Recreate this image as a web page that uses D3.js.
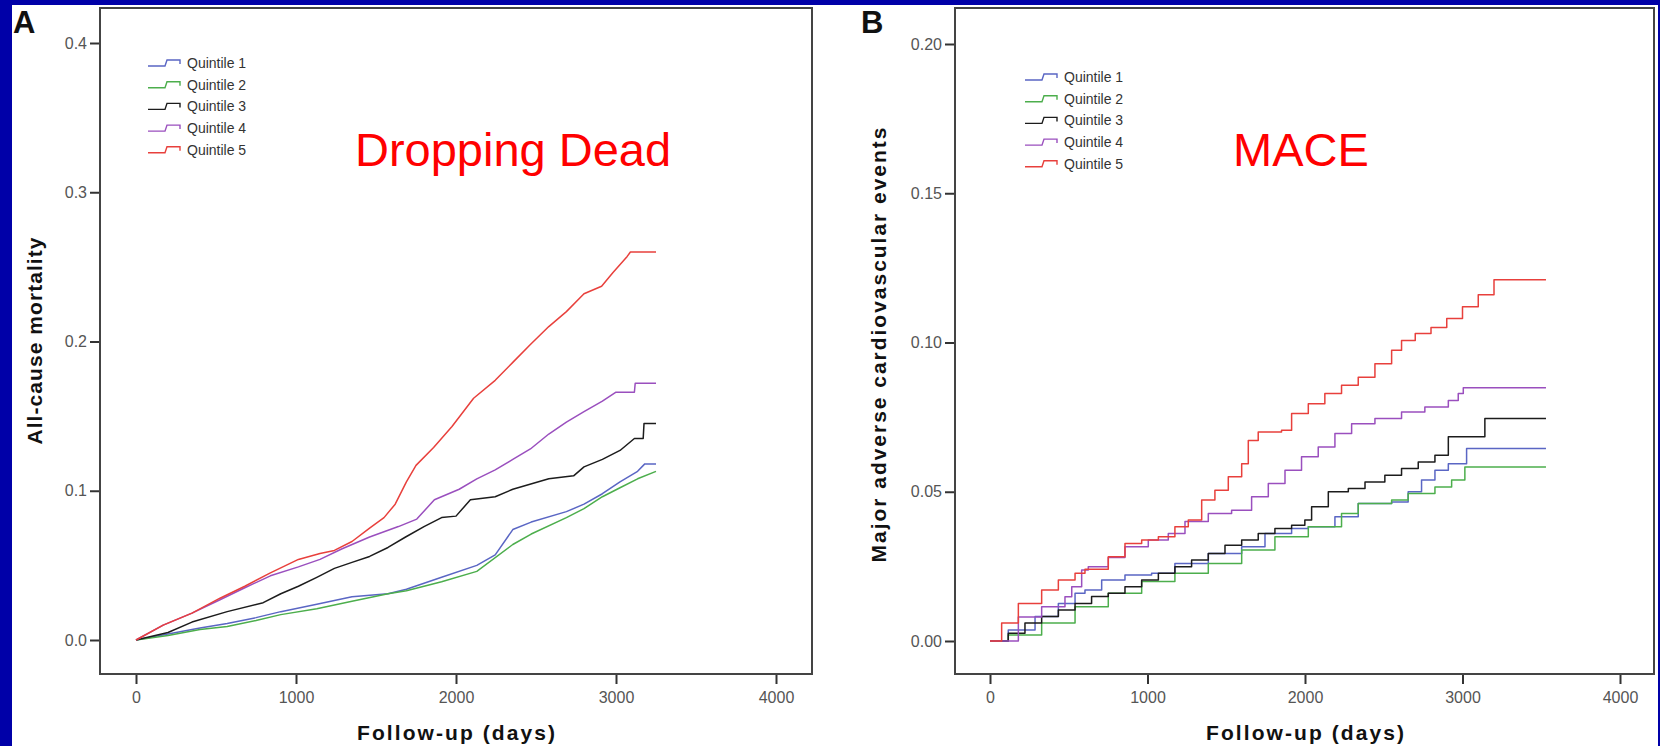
<!DOCTYPE html>
<html>
<head>
<meta charset="utf-8">
<script src="https://cdn.jsdelivr.net/npm/d3@7"></script>
<style>
html, body { margin: 0; padding: 0; background: #0000a8; overflow: hidden; }
svg { display: block; }
text { font-family: "Liberation Sans", Arial, sans-serif; }
</style>
</head>
<body>
<div id="chart"></div>
<script>

/*********************/
/******** data *******/

const quintiles = ["Quintile 1", "Quintile 2", "Quintile 3", "Quintile 4", "Quintile 5"];
const quintileColors = ["#5a66c4", "#4cae4c", "#1c1c1c", "#9a4fbe", "#e8403c"];
const xTicks = [0, 1000, 2000, 3000, 4000];
const mortalityTicks = [0, 0.1, 0.2, 0.3, 0.4];
const maceTicks = [0, 0.05, 0.10, 0.15, 0.20];

// panel A : all-cause mortality, [days, cumulative]
const mortQ1 = [[0,0],[200,0.004],[400,0.008],[570,0.011],[750,0.015],[905,0.019],[1130,0.024],[1350,0.029],[1575,0.031],[1690,0.034],[1910,0.042],[2130,0.050],[2245,0.057],[2355,0.074],[2470,0.079],[2690,0.086],[2800,0.091],[2915,0.098],[3025,0.106],[3135,0.113],[3180,0.118],[3250,0.118]];
const mortQ2 = [[0,0],[200,0.003],[400,0.007],[570,0.009],[750,0.013],[905,0.017],[1130,0.021],[1350,0.026],[1575,0.031],[1690,0.033],[1910,0.039],[2130,0.046],[2355,0.064],[2470,0.071],[2690,0.082],[2800,0.088],[2915,0.096],[3025,0.102],[3135,0.108],[3250,0.113]];
const mortQ3 = [[0,0],[200,0.005],[350,0.012],[570,0.019],[795,0.025],[905,0.031],[1015,0.036],[1130,0.042],[1240,0.048],[1350,0.052],[1460,0.056],[1575,0.062],[1685,0.069],[1800,0.076],[1910,0.082],[2000,0.083],[2090,0.094],[2245,0.096],[2355,0.101],[2580,0.108],[2735,0.110],[2800,0.116],[2915,0.121],[3025,0.127],[3115,0.135],[3170,0.135],[3175,0.145],[3250,0.145]];
const mortQ4 = [[0,0],[170,0.010],[350,0.018],[525,0.027],[680,0.035],[840,0.043],[1015,0.049],[1150,0.054],[1285,0.061],[1460,0.069],[1640,0.076],[1755,0.081],[1865,0.094],[2020,0.101],[2130,0.108],[2245,0.114],[2355,0.121],[2465,0.128],[2580,0.138],[2690,0.146],[2800,0.153],[2915,0.160],[3000,0.166],[3115,0.166],[3120,0.172],[3250,0.172]];
const mortQ5 = [[0,0],[170,0.010],[350,0.018],[525,0.028],[680,0.036],[840,0.045],[1015,0.054],[1150,0.058],[1240,0.060],[1350,0.066],[1460,0.075],[1550,0.082],[1620,0.091],[1690,0.106],[1750,0.117],[1860,0.129],[1975,0.143],[2110,0.162],[2245,0.174],[2355,0.186],[2465,0.198],[2580,0.210],[2690,0.220],[2800,0.232],[2910,0.237],[2980,0.246],[3070,0.257],[3090,0.260],[3250,0.260]];

// panel B : major adverse cardiovascular events, [days, cumulative]
const maceQ1 = [[0,0],[116,0.0037],[286,0.0082],[434,0.0126],[540,0.016],[603,0.0171],[709,0.0204],[857,0.0221],[1026,0.0227],[1174,0.026],[1386,0.0293],[1598,0.0316],[1746,0.036],[1915,0.0377],[2021,0.0383],[2190,0.0416],[2338,0.0461],[2550,0.0466],[2655,0.050],[2740,0.0539],[2825,0.0572],[2910,0.0594],[3026,0.0645],[3530,0.0645]];
const maceQ2 = [[0,0],[116,0.002],[328,0.006],[540,0.0115],[751,0.016],[963,0.0199],[1174,0.0227],[1386,0.026],[1598,0.0305],[1809,0.0349],[2021,0.0383],[2232,0.0427],[2338,0.0461],[2550,0.0472],[2655,0.0494],[2825,0.0516],[2931,0.0539],[3015,0.0583],[3530,0.0583]];
const maceQ3 = [[0,0],[116,0.0026],[222,0.006],[328,0.0082],[434,0.0104],[540,0.0126],[645,0.0149],[751,0.016],[857,0.0182],[963,0.0204],[1069,0.0227],[1174,0.0249],[1280,0.0271],[1386,0.0293],[1492,0.0321],[1598,0.0338],[1703,0.036],[1809,0.0377],[1915,0.0388],[1999,0.0405],[2042,0.045],[2148,0.050],[2275,0.0511],[2381,0.0533],[2507,0.0555],[2613,0.0578],[2719,0.060],[2825,0.0622],[2910,0.0684],[3142,0.0745],[3530,0.0745]];
const maceQ4 = [[0,0],[180,0.008],[328,0.0115],[476,0.0148],[519,0.0182],[582,0.0238],[624,0.0249],[751,0.028],[857,0.0316],[1005,0.0338],[1132,0.036],[1238,0.040],[1386,0.0427],[1534,0.0438],[1661,0.0483],[1767,0.0528],[1873,0.0572],[1978,0.0617],[2084,0.065],[2190,0.0695],[2296,0.0728],[2444,0.0745],[2613,0.0767],[2761,0.0784],[2910,0.0806],[2973,0.0829],[3005,0.0848],[3530,0.0848]];
const maceQ5 = [[0,0],[74,0.006],[180,0.0126],[328,0.0171],[434,0.0204],[540,0.0227],[603,0.024],[751,0.0282],[857,0.0327],[963,0.0338],[1069,0.0349],[1174,0.0383],[1259,0.0405],[1344,0.0472],[1428,0.0505],[1513,0.055],[1598,0.0594],[1640,0.0672],[1703,0.070],[1851,0.0706],[1915,0.0762],[2021,0.0795],[2126,0.0829],[2232,0.0857],[2338,0.0884],[2444,0.0929],[2550,0.0974],[2613,0.1007],[2700,0.103],[2800,0.105],[2900,0.108],[3000,0.112],[3100,0.116],[3200,0.121],[3530,0.121]];


/*********************/
/******* chart *******/

const width = 1660;
const height = 746;

const svg = d3.select("#chart")
    .append("svg")
    .attr("width", width)
    .attr("height", height);

svg.append("rect")
    .attr("x", 12).attr("y", 5)
    .attr("width", 1646).attr("height", 741)
    .attr("fill", "#fff");

const panels = [
    {
        letter: "A", letterX: 13,
        frame: {left: 100, top: 8, right: 812, bottom: 674},
        xRange: [136, 776], yRange: [640, 43], yMax: 0.4,
        yTicks: mortalityTicks, yFormat: d3.format(".1f"),
        series: [mortQ1, mortQ2, mortQ3, mortQ4, mortQ5],
        curve: d3.curveLinear,
        yTitle: "All-cause mortality", yTitleX: 42, yTitleY: 341, yTitleLen: 207,
        note: "Dropping Dead", noteX: 355,
        legendX: 148, legendY: 63
    },
    {
        letter: "B", letterX: 861,
        frame: {left: 955, top: 8, right: 1654, bottom: 674},
        xRange: [990, 1620], yRange: [641, 44], yMax: 0.2,
        yTicks: maceTicks, yFormat: d3.format(".2f"),
        series: [maceQ1, maceQ2, maceQ3, maceQ4, maceQ5],
        curve: d3.curveStepAfter,
        yTitle: "Major adverse cardiovascular events", yTitleX: 886, yTitleY: 345, yTitleLen: 435,
        note: "MACE", noteX: 1233,
        legendX: 1025, legendY: 77
    }
];

panels.forEach(drawPanel);

function drawPanel(p) {
    const f = p.frame;
    const x = d3.scaleLinear().domain([0, 4000]).range(p.xRange);
    const y = d3.scaleLinear().domain([0, p.yMax]).range(p.yRange);

    // y axis
    const gy = svg.append("g")
        .attr("transform", "translate(" + f.left + ",0)")
        .call(d3.axisLeft(y).tickValues(p.yTicks).tickFormat(p.yFormat).tickSize(10).tickPadding(3));
    gy.select(".domain").remove();

    // x axis
    const gx = svg.append("g")
        .attr("transform", "translate(0," + f.bottom + ")")
        .call(d3.axisBottom(x).tickValues(xTicks).tickFormat(d3.format("d")).tickSize(10).tickPadding(8));
    gx.select(".domain").remove();

    svg.selectAll(".tick line").attr("stroke", "#333").attr("stroke-width", 2);
    svg.selectAll(".tick text")
        .attr("fill", "#555")
        .style("font-size", "16px");

    // frame
    svg.append("rect")
        .attr("x", f.left).attr("y", f.top)
        .attr("width", f.right - f.left).attr("height", f.bottom - f.top)
        .attr("fill", "none")
        .attr("stroke", "#444")
        .attr("stroke-width", 2);

    // curves
    const line = d3.line()
        .curve(p.curve)
        .x(function (d) { return x(d[0]); })
        .y(function (d) { return y(d[1]); });

    svg.append("g")
        .selectAll("path")
        .data(p.series)
        .enter().append("path")
        .attr("d", line)
        .attr("fill", "none")
        .attr("stroke", function (d, i) { return quintileColors[i]; })
        .attr("stroke-width", 1.5)
        .attr("stroke-linejoin", "round");

    // legend
    const leg = svg.append("g")
        .attr("transform", "translate(" + p.legendX + "," + p.legendY + ")");
    const rows = leg.selectAll("g")
        .data(quintiles)
        .enter().append("g")
        .attr("transform", function (d, i) { return "translate(0," + (i * 21.7) + ")"; });
    rows.append("path")
        .attr("d", "M0,3H17L19,-3H32V1")
        .attr("fill", "none")
        .attr("stroke", function (d, i) { return quintileColors[i]; })
        .attr("stroke-width", 1.4);
    rows.append("text")
        .attr("x", 39)
        .attr("y", 5)
        .attr("fill", "#333")
        .style("font-size", "14px")
        .text(function (d) { return d; });

    // titles
    svg.append("text")
        .attr("x", p.letterX).attr("y", 33)
        .style("font-size", "31px")
        .style("font-weight", "bold")
        .attr("fill", "#111")
        .text(p.letter);

    svg.append("text")
        .attr("transform", "translate(" + p.yTitleX + "," + p.yTitleY + ") rotate(-90)")
        .attr("text-anchor", "middle")
        .attr("textLength", p.yTitleLen)
        .attr("lengthAdjust", "spacing")
        .style("font-size", "21px")
        .style("font-weight", "bold")
        .attr("fill", "#111")
        .text(p.yTitle);

    svg.append("text")
        .attr("x", (p.xRange[0] + p.xRange[1]) / 2)
        .attr("y", 740)
        .attr("text-anchor", "middle")
        .attr("textLength", 198)
        .attr("lengthAdjust", "spacing")
        .style("font-size", "21px")
        .style("font-weight", "bold")
        .attr("fill", "#111")
        .text("Follow-up (days)");

    svg.append("text")
        .attr("x", p.noteX).attr("y", 166)
        .style("font-size", "47px")
        .attr("fill", "#ff0000")
        .text(p.note);
}
</script>
</body>
</html>
